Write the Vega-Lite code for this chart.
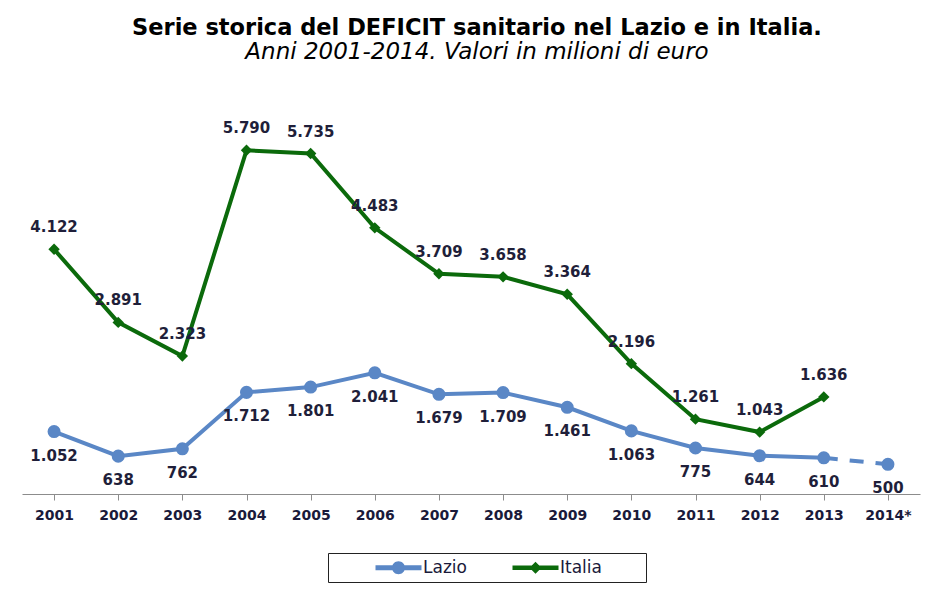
{
  "$schema": "https://vega.github.io/schema/vega-lite/v6.json",
  "width": 898,
  "height": 394,
  "autosize": "none",
  "padding": {"left": 22, "top": 100, "right": 11, "bottom": 97},
  "background": "white",
  "config": {
    "view": {"stroke": null},
    "locale": {"number": {"decimal": ",", "thousands": ".", "grouping": [3], "currency": ["€", ""]}}
  },
  "title": {
    "text": "Serie storica del DEFICIT sanitario nel Lazio e in Italia.",
    "subtitle": "Anni 2001-2014. Valori in milioni di euro",
    "anchor": "middle",
    "font": "DejaVu Sans",
    "fontSize": 22.5,
    "fontWeight": "bold",
    "color": "#000000",
    "subtitleFont": "DejaVu Sans",
    "subtitleFontSize": 23,
    "subtitleFontStyle": "italic",
    "subtitleColor": "#000000",
    "subtitlePadding": 2,
    "offset": 36,
    "dx": 6
  },
  "data": {
    "values": [
      {"anno": "2001", "serie": "Lazio", "valore": 1052},
      {"anno": "2002", "serie": "Lazio", "valore": 638},
      {"anno": "2003", "serie": "Lazio", "valore": 762},
      {"anno": "2004", "serie": "Lazio", "valore": 1712},
      {"anno": "2005", "serie": "Lazio", "valore": 1801},
      {"anno": "2006", "serie": "Lazio", "valore": 2041},
      {"anno": "2007", "serie": "Lazio", "valore": 1679},
      {"anno": "2008", "serie": "Lazio", "valore": 1709},
      {"anno": "2009", "serie": "Lazio", "valore": 1461},
      {"anno": "2010", "serie": "Lazio", "valore": 1063},
      {"anno": "2011", "serie": "Lazio", "valore": 775},
      {"anno": "2012", "serie": "Lazio", "valore": 644},
      {"anno": "2013", "serie": "Lazio", "valore": 610},
      {"anno": "2014*", "serie": "Lazio", "valore": 500},
      {"anno": "2001", "serie": "Italia", "valore": 4122},
      {"anno": "2002", "serie": "Italia", "valore": 2891},
      {"anno": "2003", "serie": "Italia", "valore": 2323},
      {"anno": "2004", "serie": "Italia", "valore": 5790},
      {"anno": "2005", "serie": "Italia", "valore": 5735},
      {"anno": "2006", "serie": "Italia", "valore": 4483},
      {"anno": "2007", "serie": "Italia", "valore": 3709},
      {"anno": "2008", "serie": "Italia", "valore": 3658},
      {"anno": "2009", "serie": "Italia", "valore": 3364},
      {"anno": "2010", "serie": "Italia", "valore": 2196},
      {"anno": "2011", "serie": "Italia", "valore": 1261},
      {"anno": "2012", "serie": "Italia", "valore": 1043},
      {"anno": "2013", "serie": "Italia", "valore": 1636}
    ]
  },
  "encoding": {
    "x": {
      "field": "anno",
      "type": "ordinal",
      "sort": null,
      "scale": {"paddingInner": 0, "paddingOuter": 0},
      "axis": {
        "title": null,
        "labelAngle": 0,
        "labelFont": "DejaVu Sans",
        "labelFontSize": 14,
        "labelFontWeight": "bold",
        "labelColor": "#1a1a3a",
        "labelPadding": 8,
        "domainColor": "#8c8c8c",
        "domainWidth": 1.2,
        "tickColor": "#8c8c8c",
        "tickSize": 6,
        "bandPosition": 0
      }
    },
    "y": {
      "field": "valore",
      "type": "quantitative",
      "scale": {"domain": [0, 6637], "nice": false, "zero": true},
      "axis": null
    },
    "color": {
      "field": "serie",
      "type": "nominal",
      "sort": ["Lazio", "Italia"],
      "scale": {"domain": ["Lazio", "Italia"], "range": ["#5a87c6", "#0b6a0b"]},
      "legend": {
        "orient": "none",
        "legendX": 306,
        "legendY": 453,
        "direction": "horizontal",
        "title": " ",
        "titleOrient": "left",
        "titleFontSize": 1,
        "titlePadding": 56,
        "strokeColor": "#222222",
        "fillColor": "white",
        "padding": 6,
        "symbolSize": 100,
        "symbolType": "circle",
        "symbolStrokeWidth": 0,
        "labelFont": "DejaVu Sans",
        "labelFontSize": 17,
        "labelColor": "#1a1a3a",
        "labelOffset": 16,
        "columnPadding": 45,
        "labelExpr": "datum.label === 'Italia' ? 'Italia\u2800\u2800\u2800' : datum.label",
        "encode": {
          "symbols": {
            "update": {
              "shape": {"signal": "datum.value === 'Lazio' ? 'M-4.6,-0.5L4.6,-0.5L4.6,0.5L-4.6,0.5Z M-1.3,0A1.3,1.3 0 1,1 1.3,0A1.3,1.3 0 1,1 -1.3,0Z' : 'M-4.6,-0.45L4.6,-0.45L4.6,0.45L-4.6,0.45Z M0,-1.2L1.2,0L0,1.2L-1.2,0Z'"},
              "fill": {"signal": "datum.value === 'Lazio' ? '#5a87c6' : '#0b6a0b'"},
              "fillOpacity": {"value": 1},
              "opacity": {"value": 1},
              "strokeWidth": {"value": 0}
            }
          }
        }
      }
    }
  },
  "layer": [
    {
      "transform": [{"filter": "datum.anno !== '2014*'"}],
      "mark": {"type": "line", "strokeWidth": 4},
      "encoding": {}
    },
    {
      "transform": [{"filter": "datum.serie === 'Lazio' && (datum.anno === '2013' || datum.anno === '2014*')"}],
      "mark": {"type": "line", "strokeWidth": 4, "strokeDash": [14, 12]},
      "encoding": {}
    },
    {
      "transform": [{"filter": "datum.serie === 'Lazio'"}],
      "mark": {"type": "point", "filled": true, "opacity": 1, "shape": "circle", "size": 170},
      "encoding": {}
    },
    {
      "transform": [{"filter": "datum.serie === 'Italia'"}],
      "mark": {"type": "point", "filled": true, "opacity": 1, "shape": "diamond", "size": 130},
      "encoding": {}
    },
    {
      "transform": [{"filter": "datum.serie === 'Lazio'"}],
      "mark": {"type": "text", "font": "DejaVu Sans", "fontSize": 15, "fontWeight": "bold", "baseline": "middle", "dy": 24},
      "encoding": {
        "text": {"field": "valore", "type": "quantitative", "format": ",d"},
        "color": {"value": "#1f1f3a"}
      }
    },
    {
      "transform": [{"filter": "datum.serie === 'Italia'"}],
      "mark": {"type": "text", "font": "DejaVu Sans", "fontSize": 15, "fontWeight": "bold", "baseline": "middle", "dy": -22},
      "encoding": {
        "text": {"field": "valore", "type": "quantitative", "format": ",d"},
        "color": {"value": "#1f1f3a"}
      }
    }
  ]
}
